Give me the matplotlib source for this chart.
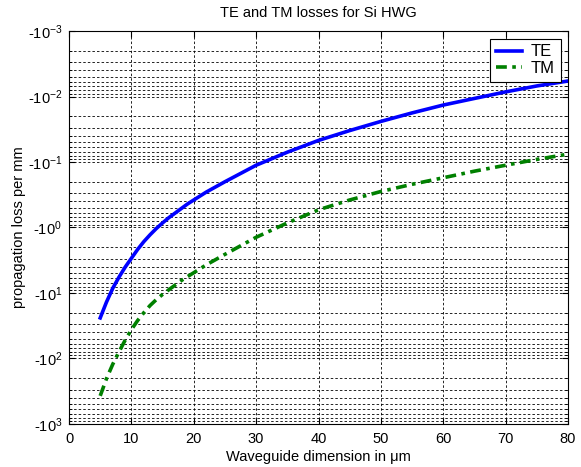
import numpy as np
import matplotlib
matplotlib.use('Agg')
import matplotlib.pyplot as plt
from matplotlib.ticker import LogLocator, FixedLocator, NullFormatter

plt.rcParams['font.family'] = ['Liberation Sans', 'DejaVu Sans']
plt.rcParams['mathtext.fontset'] = 'custom'
plt.rcParams['mathtext.rm'] = 'Liberation Sans'
plt.rcParams['mathtext.it'] = 'Liberation Sans'
plt.rcParams['mathtext.default'] = 'regular'

# waveguide dimension (um)
dims = [5, 6, 7, 8, 9, 10, 11, 12, 13, 14, 15, 16, 17, 18, 19, 20, 22, 25, 30,
        35, 40, 45, 50, 55, 60, 65, 70, 75, 80]

# propagation loss per mm (negative values, as in the original)
te_loss = [-24.0, -13.8, -8.51, -5.75, -4.03, -2.95, -2.16, -1.64, -1.29,
           -1.035, -0.851, -0.708, -0.603, -0.513, -0.437, -0.380, -0.288,
           -0.200, -0.112, -0.0708, -0.0468, -0.0331, -0.024, -0.0178,
           -0.0135, -0.0107, -0.0085, -0.0069, -0.0058]
tm_loss = [-372, -204, -123, -79.4, -52.5, -36.3, -26.3, -19.95, -15.5, -12.6,
           -10.5, -8.91, -7.59, -6.46, -5.62, -4.90, -3.72, -2.57, -1.41,
           -0.851, -0.537, -0.380, -0.282, -0.219, -0.174, -0.138, -0.112,
           -0.0912, -0.0759]

x_ticks = [0, 10, 20, 30, 40, 50, 60, 70, 80]
y_exps = [-3, -2, -1, 0, 1, 2, 3]
y_ticklabels = ['-10$^{%s}$' % (('-' + str(-e)) if e < 0 else str(e)) for e in y_exps]

fig = plt.figure(figsize=(5.81, 4.67), dpi=100)
ax = fig.add_axes([0.1188, 0.0921, 0.8589, 0.8415])

# log axis on the magnitude, flipped so -10^-3 sits on top
ax.plot(dims, np.abs(te_loss), color='#0000ff', linewidth=2.6, label='TE',
        solid_joinstyle='round')
ax.plot(dims, np.abs(tm_loss), color='#008000', linewidth=2.6,
        linestyle=(0, (3, 1.5, 1, 1.5)), label='TM')
ax.set_yscale('log')
ax.set_xlim(0, 80)
ax.set_ylim(1e-3, 1e3)
ax.invert_yaxis()

ax.set_xticks(x_ticks)
ax.yaxis.set_major_locator(FixedLocator([10.0 ** e for e in y_exps]))
ax.set_yticklabels(y_ticklabels)
ax.yaxis.set_minor_locator(LogLocator(base=10, subs=np.arange(2, 10)))
ax.yaxis.set_minor_formatter(NullFormatter())

ax.grid(True, which='major', axis='both', color='black', linestyle=(0, (3, 2.5)), linewidth=0.6)
ax.grid(True, which='minor', axis='y', color='black', linestyle=(0, (3, 2.5)), linewidth=0.6)
ax.set_axisbelow(True)

ax.tick_params(which='both', direction='in', top=True, right=True, labelsize=10.5)
ax.tick_params(which='major', length=4)
ax.tick_params(which='minor', length=2)
ax.tick_params(axis='y', pad=5)
ax.tick_params(axis='x', pad=6)
for s in ax.spines.values():
    s.set_linewidth(0.8)

ax.set_title('TE and TM losses for Si HWG', fontsize=10.5, pad=10)
ax.set_xlabel('Waveguide dimension in μm', fontsize=10.5, labelpad=3)
ax.set_ylabel('propagation loss per mm', fontsize=10.5, labelpad=1)

leg = ax.legend(loc='upper right', fontsize=12, fancybox=False, framealpha=1,
                edgecolor='black', handlelength=1.6, handletextpad=0.5,
                borderaxespad=0.45, labelspacing=0.1, borderpad=0.35)
leg.get_frame().set_linewidth(0.8)

plt.savefig('out.png', dpi=100)
